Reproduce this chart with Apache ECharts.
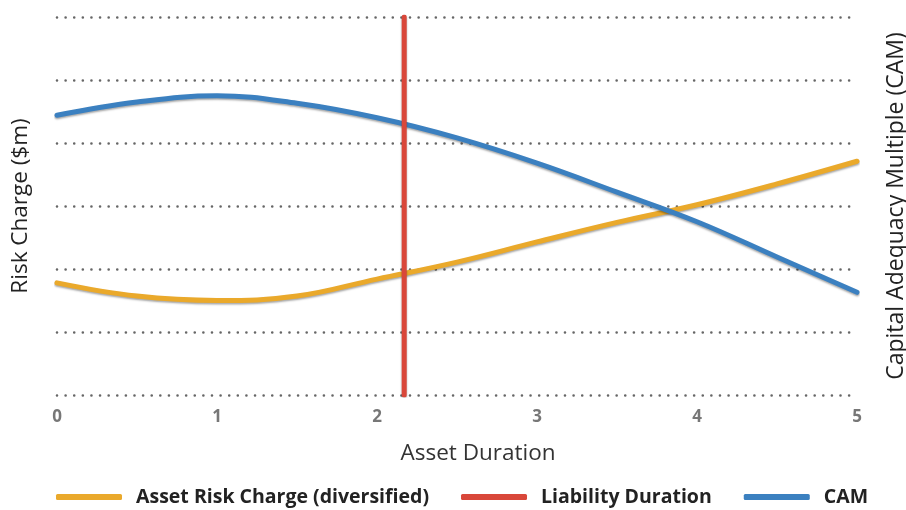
<!DOCTYPE html>
<html>
<head>
<meta charset="utf-8">
<script src="https://cdn.jsdelivr.net/npm/echarts@6/dist/echarts.min.js"></script>
<style>html,body{margin:0;padding:0;background:#fff}#c{width:906px;height:510px}</style>
</head>
<body>
<div id="c"></div>
<script>
const xTicks = [0, 1, 2, 3, 4, 5];
const xPoints = [0, 0.5, 1, 1.5, 2, 2.5, 3, 3.5, 4, 4.5, 5];
const assetRiskCharge = [1.78, 1.57, 1.50, 1.57, 1.84, 2.11, 2.43, 2.74, 3.02, 3.35, 3.71];
const cam = [4.44, 4.65, 4.75, 4.63, 4.40, 4.08, 3.68, 3.22, 2.75, 2.19, 1.63];
const liabilityDuration = 2.17;
const yRange = [0, 6];
const seriesNames = ['Asset Risk Charge (diversified)', 'Liability Duration', 'CAM'];

const FONT = '"Open Sans", sans-serif';
const shadow = {shadowColor: 'rgba(0,0,0,0.35)', shadowBlur: 2, shadowOffsetY: 1.5};
const chart = echarts.init(document.getElementById('c'));
chart.setOption({
  animation: false,
  grid: {left: 57, right: 49, top: 17, bottom: 115, containLabel: false, outerBoundsMode: 'none'},
  legend: {
    bottom: -2, left: 51,
    itemWidth: 66, itemHeight: 6, itemGap: 32,
    icon: 'roundRect',
    textStyle: {fontFamily: FONT, fontSize: 19.5, fontWeight: 'bold', color: '#222', padding: [0, 0, 0, 9]},
    data: seriesNames
  },
  xAxis: {
    type: 'value', min: xTicks[0], max: xTicks[xTicks.length - 1], interval: 1,
    name: 'Asset Duration', nameLocation: 'middle', nameGap: 47,
    nameTextStyle: {fontFamily: FONT, fontSize: 22.5, color: '#333', padding: [0, 0, 0, 42]},
    axisLine: {show: false}, axisTick: {show: false}, splitLine: {show: false},
    axisLabel: {fontFamily: FONT, fontSize: 17, fontWeight: 'bold', color: '#777', margin: 14}
  },
  yAxis: [{
    type: 'value', min: yRange[0], max: yRange[1], interval: 1,
    name: 'Risk Charge ($m)', nameLocation: 'middle', nameGap: 25,
    nameTextStyle: {fontFamily: FONT, fontSize: 22.5, color: '#222'},
    axisLabel: {show: false}, axisLine: {show: false}, axisTick: {show: false},
    splitLine: {show: true, lineStyle: {color: '#666', width: 2.6, type: [0.01, 8.6], cap: 'round'}}
  }, {
    type: 'value', min: yRange[0], max: yRange[1], interval: 1, position: 'right',
    name: 'Capital Adequacy Multiple (CAM)', nameLocation: 'middle', nameGap: 28, nameRotate: 90,
    nameTextStyle: {fontFamily: FONT, fontSize: 23, color: '#222'},
    axisLabel: {show: false}, axisLine: {show: false}, axisTick: {show: false}, splitLine: {show: false}
  }],
  series: [{
    name: seriesNames[0], type: 'line', smooth: 0.4, symbol: 'none', yAxisIndex: 0,
    data: xPoints.map((x, i) => [x, assetRiskCharge[i]]),
    lineStyle: Object.assign({color: '#eaa92b', width: 5, cap: 'round'}, shadow),
    itemStyle: {color: '#eaa92b'}, z: 3
  }, {
    name: seriesNames[1], type: 'line', symbol: 'none', yAxisIndex: 0,
    data: [[liabilityDuration, yRange[0]], [liabilityDuration, yRange[1]]],
    lineStyle: Object.assign({color: '#d9473a', width: 5, cap: 'round'}, shadow),
    itemStyle: {color: '#d9473a'}, z: 4
  }, {
    name: seriesNames[2], type: 'line', smooth: 0.4, symbol: 'none', yAxisIndex: 1,
    data: xPoints.map((x, i) => [x, cam[i]]),
    lineStyle: Object.assign({color: '#3b80c0', width: 5, cap: 'round'}, shadow),
    itemStyle: {color: '#3b80c0'}, z: 3
  }]
});
</script>
</body>
</html>
